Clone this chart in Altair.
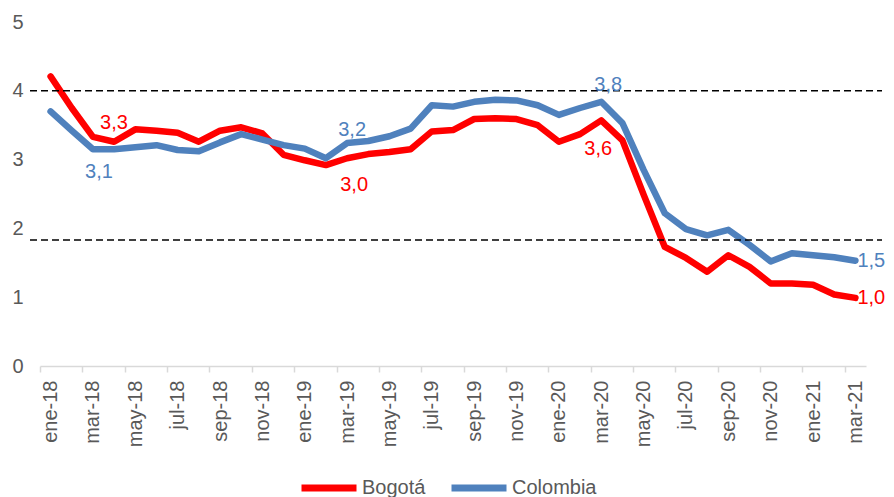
import altair as alt
import pandas as pd

months = ['ene-18','feb-18','mar-18','abr-18','may-18','jun-18','jul-18','ago-18','sep-18','oct-18','nov-18','dic-18',
          'ene-19','feb-19','mar-19','abr-19','may-19','jun-19','jul-19','ago-19','sep-19','oct-19','nov-19','dic-19',
          'ene-20','feb-20','mar-20','abr-20','may-20','jun-20','jul-20','ago-20','sep-20','oct-20','nov-20','dic-20',
          'ene-21','feb-21','mar-21']

bogota = [4.21,3.75,3.33,3.26,3.44,3.42,3.39,3.26,3.42,3.47,3.38,3.07,
          2.99,2.92,3.02,3.08,3.11,3.15,3.41,3.43,3.59,3.60,3.59,3.50,
          3.26,3.37,3.57,3.28,2.49,1.73,1.57,1.37,1.61,1.44,1.20,1.20,
          1.18,1.04,0.99]

colombia = [3.70,3.42,3.15,3.15,3.18,3.21,3.14,3.12,3.25,3.37,3.29,3.21,
            3.16,3.02,3.24,3.27,3.34,3.45,3.79,3.77,3.84,3.87,3.86,3.79,
            3.65,3.75,3.84,3.53,2.85,2.22,1.99,1.90,1.98,1.76,1.52,1.64,
            1.61,1.58,1.53]

series_names = ['Bogotá', 'Colombia']
series_colors = ['#FF0000', '#4F81BD']

label_months = ['mar-18', 'mar-19', 'mar-20', 'mar-21']
bogota_labels = ['3,3', '3,0', '3,6', '1,0']
colombia_labels = ['3,1', '3,2', '3,8', '1,5']

reference_lines = [4.0, 1.83]

y_ticks = [0, 1, 2, 3, 4, 5]

# ---- build tables ----
rows = []
for i, m in enumerate(months):
    rows.append({'i': i, 'mes': m, 'serie': 'Bogotá', 'valor': bogota[i]})
for i, m in enumerate(months):
    rows.append({'i': i, 'mes': m, 'serie': 'Colombia', 'valor': colombia[i]})
df = pd.DataFrame(rows)

W, H = 826, 344
PAD_L, PAD_T = 32, 14
half_band = W / len(months) / 2
FONT = 'Liberation Sans'
GRAY = '#595959'

x_scale = alt.Scale(domain=[-0.5, len(months) - 0.5], nice=False, zero=False)
y_scale = alt.Scale(domain=[0, 5], nice=False)

label_array = '[' + ','.join("'%s'" % m for m in months) + ']'
x_axis = alt.Axis(
    values=[k - 0.5 for k in range(0, len(months), 2)],
    labelExpr=label_array + '[round(datum.value + 0.5)]',
    labelAngle=-90, labelAlign='right', labelBaseline='middle',
    labelOffset=half_band, labelPadding=8,
    labelFontSize=20, labelColor=GRAY, labelFont=FONT,
    domainColor='#D9D9D9', domainWidth=1.5,
    tickColor='#D9D9D9', tickSize=6, tickWidth=1.5,
    grid=False, title=None,
)
y_axis = alt.Axis(
    values=y_ticks, format='d', domain=False, ticks=False, grid=False,
    labelFontSize=20, labelColor=GRAY, labelFont=FONT, labelPadding=17,
    title=None,
)

color = alt.Color('serie:N',
                  scale=alt.Scale(domain=series_names, range=series_colors),
                  legend=alt.Legend(
                      title=None, orient='none', legendX=258, legendY=435,
                      direction='horizontal',
                      symbolType='M-1,0L1,0', symbolSize=3025,
                      symbolStrokeWidth=7,
                      labelFontSize=20, labelColor=GRAY, labelFont=FONT,
                      labelOffset=2, columnPadding=11,
                  ))

lines = alt.Chart(df).mark_line(strokeWidth=6.5, strokeJoin='round', strokeCap='round').encode(
    x=alt.X('i:Q', scale=x_scale, axis=x_axis),
    y=alt.Y('valor:Q', scale=y_scale, axis=y_axis),
    color=color,
    order=alt.Order('i:Q'),
)

ref_df = pd.DataFrame({'y': reference_lines})
refs = alt.Chart(ref_df).mark_rule(color='black', strokeWidth=1.5, strokeDash=[7, 4]).encode(
    y=alt.Y('y:Q', scale=y_scale),
    x=alt.value(-10),
    x2=alt.value(W + 16),
)

# label offsets (dx, dy, align) for each labelled point
bogota_offsets = [(21, -14, 'center'), (7, 27, 'center'), (-3, 29, 'center'), (2, 0, 'left')]
colombia_offsets = [(6, 23, 'center'), (5, -13, 'center'), (7, -17, 'center'), (2, 0, 'left')]

label_layers = []
for name, values, texts, offsets, col in [
    ('Bogotá', bogota, bogota_labels, bogota_offsets, series_colors[0]),
    ('Colombia', colombia, colombia_labels, colombia_offsets, series_colors[1]),
]:
    for m, t, (dx, dy, al) in zip(label_months, texts, offsets):
        i = months.index(m)
        d = pd.DataFrame({'i': [i], 'valor': [values[i]], 'txt': [t]})
        label_layers.append(
            alt.Chart(d).mark_text(font=FONT, fontSize=20, color=col, dx=dx, dy=dy,
                                   align=al, baseline='middle').encode(
                x=alt.X('i:Q', scale=x_scale),
                y=alt.Y('valor:Q', scale=y_scale),
                text='txt:N',
            )
        )

chart = alt.layer(lines, refs, *label_layers).properties(
    width=W, height=H,
    autosize=alt.AutoSizeParams(type='none'),
    padding={'left': PAD_L, 'top': PAD_T, 'right': 878 - PAD_L - W, 'bottom': 131},
    background='white',
).configure_view(stroke=None)

chart.save('out.html', embed_options={'renderer': 'svg', 'actions': False})
